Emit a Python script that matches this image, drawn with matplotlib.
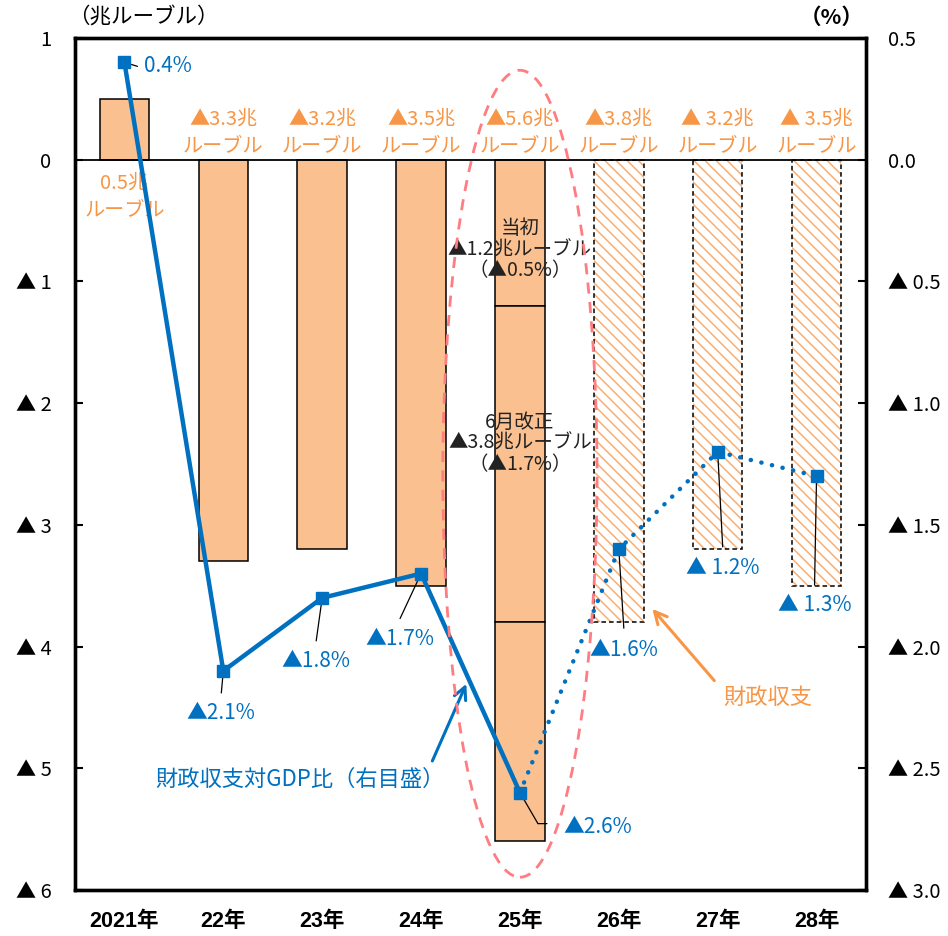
import matplotlib
matplotlib.use('Agg')
import matplotlib.pyplot as plt
from matplotlib.patches import Ellipse
from matplotlib.text import OffsetFrom

plt.rcParams['font.family'] = ['Noto Sans CJK JP', 'DejaVu Sans']
plt.rcParams['hatch.linewidth'] = 1.1

# ---- data -------------------------------------------------------------
years = ['2021年', '22年', '23年', '24年', '25年', '26年', '27年', '28年']
balance = [0.5, -3.3, -3.2, -3.5, -5.6, -3.8, -3.2, -3.5]          # 兆ルーブル
balance_labels = ['0.5兆', '▲3.3兆', '▲3.2兆', '▲3.5兆', '▲5.6兆',
                  '▲3.8兆', '▲ 3.2兆', '▲ 3.5兆']
is_forecast = [False, False, False, False, False, True, True, True]
budget_2025_steps = [-1.2, -3.8]                                     # 当初, 6月改正
budget_2025_notes = ['当初\n▲1.2兆ルーブル\n（▲0.5%）',
                     '6月改正\n▲3.8兆ルーブル\n（▲1.7%）']
gdp_ratio = [0.4, -2.1, -1.8, -1.7, -2.6, -1.6, -1.2, -1.3]           # %
gdp_labels = ['0.4%', '▲2.1%', '▲1.8%', '▲1.7%', '▲2.6%', '▲1.6%',
              '▲ 1.2%', '▲ 1.3%']
left_ticks = [1, 0, -1, -2, -3, -4, -5, -6]
left_ticklabels = ['1', '0', '▲ 1', '▲ 2', '▲ 3', '▲ 4', '▲ 5', '▲ 6']
right_ticks = [0.5, 0.0, -0.5, -1.0, -1.5, -2.0, -2.5, -3.0]
right_ticklabels = ['0.5', '0.0', '▲ 0.5', '▲ 1.0', '▲ 1.5', '▲ 2.0',
                    '▲ 2.5', '▲ 3.0']

# ---- styles -----------------------------------------------------------
BAR = '#FAC090'
ORANGE = '#F79646'
HATCH = '#F9AE72'
BLUE = '#0070C0'
RED = '#FF7C80'
LATIN = ['Liberation Sans', 'Noto Sans CJK JP']

fig = plt.figure(figsize=(9.48, 9.36), dpi=100)
ax = fig.add_axes([75 / 948, 46 / 936, 791 / 948, 852 / 936])
ax2 = ax.twinx()

x = list(range(len(years)))
W = 0.5

# bars
for i, v in enumerate(balance):
    if is_forecast[i]:
        ax.bar(i, v, W, color='white', edgecolor=HATCH, hatch='\\\\\\',
               linewidth=0, zorder=2)
        ax.bar(i, v, W, fill=False, edgecolor='black', linewidth=1.1,
               linestyle=(0, (3, 2)), zorder=2.1)
    elif i == 4:
        edges = [0] + budget_2025_steps + [v]
        for top, bot in zip(edges[:-1], edges[1:]):
            ax.bar(i, bot - top, W, bottom=top, color=BAR,
                   edgecolor='black', linewidth=1.1, zorder=2)
    else:
        ax.bar(i, v, W, color=BAR, edgecolor='black', linewidth=1.1, zorder=2)

ax.axhline(0, color='black', linewidth=1.3, zorder=2.5)

# bar value labels
for i, (v, lab) in enumerate(zip(balance, balance_labels)):
    if v >= 0:
        ax.annotate(lab + '\nルーブル', (i, 0), xytext=(0, -13),
                    textcoords='offset pixels', ha='center', va='top',
                    fontsize=14.5, color=ORANGE, linespacing=1.32, zorder=4)
    else:
        ax.annotate(lab + '\nルーブル', (i, 0), xytext=(0, 4),
                    textcoords='offset pixels', ha='center', va='bottom',
                    fontsize=14.5, color=ORANGE, linespacing=1.32, zorder=4)

# 2025 budget notes
note_y = [-0.74, -2.33]
for y, note in zip(note_y, budget_2025_notes):
    ax.text(4, y, note, ha='center', va='center', fontsize=14,
            color='#222222', linespacing=1.0, zorder=4)

ax.set_xlim(-0.5, len(years) - 0.5)
ax.set_ylim(-6, 1)
ax.set_yticks(left_ticks)
ax.set_yticklabels(left_ticklabels, fontsize=14.5)
ax.set_xticks(x)
ax.set_xticklabels(years, fontsize=15.5, fontweight='bold', family=LATIN)
ax.tick_params(axis='x', length=0, pad=15)
ax.tick_params(axis='y', direction='in', length=6, width=1.5, pad=17)

ax2.set_ylim(-3, 0.5)
ax2.set_yticks(right_ticks)
ax2.set_yticklabels(right_ticklabels, fontsize=14.5)
ax2.tick_params(axis='y', direction='in', length=6, width=1.5, pad=16)

for a in (ax, ax2):
    for s in a.spines.values():
        s.set_linewidth(2.4)

# GDP ratio line
ax2.plot(x[:5], gdp_ratio[:5], color=BLUE, linewidth=3.2, zorder=3,
         solid_capstyle='round')
ax2.plot(x[4:], gdp_ratio[4:], color=BLUE, linewidth=3.2, zorder=3,
         linestyle=(0, (0.05, 2.4)), dash_capstyle='round')
ax2.plot(x, gdp_ratio, linestyle='none', marker='s', markersize=9,
         color=BLUE, zorder=4)

# leader lines and value labels (offsets in pixels)
leader_end = [(13, -4), (-2, -22), (-6, -43), (-21, -45), (18, -31),
              (5, -79), (5, -95), (-2, -109)]
label_pos = [(20, -4), (-2, -42), (-6, -63), (-21, -65), (78, -34),
             (5, -101), (5, -116), (-2, -129)]
leader_kw = dict(arrowstyle='-', color='black', lw=0.9, shrinkA=0, shrinkB=0)
for i, (v, lab) in enumerate(zip(gdp_ratio, gdp_labels)):
    ax2.annotate('', (i, v), xytext=leader_end[i], textcoords='offset pixels',
                 arrowprops=leader_kw, zorder=3.5)
    ha = 'left' if i == 0 else 'center'
    ax2.annotate(lab, (i, v), xytext=label_pos[i], textcoords='offset pixels',
                 ha=ha, va='center', fontsize=15, color=BLUE, zorder=5)
# short horizontal tail for the 2025 leader
tail_ref = OffsetFrom(ax2.transData, (4, gdp_ratio[4]), unit='pixels')
ax2.annotate('', xy=(18, -31), xycoords=tail_ref, xytext=(27, -31),
             textcoords=tail_ref, arrowprops=leader_kw, zorder=3.5)

# callouts
ax2.annotate('', xy=(3.458, -4.306), xycoords=ax.transData,
             xytext=(3.114, -4.94), textcoords=ax.transData,
             arrowprops=dict(arrowstyle='->', color=BLUE, lw=2.2,
                             mutation_scale=22, shrinkA=0, shrinkB=0))
ax2.text(1.78, -5.09, '財政収支対GDP比（右目盛）', transform=ax.transData,
         ha='center', va='center', fontsize=16, color=BLUE)

ax2.annotate('', xy=(5.339, -3.69), xycoords=ax.transData,
             xytext=(5.966, -4.28), textcoords=ax.transData,
             arrowprops=dict(arrowstyle='->', color=ORANGE, lw=2.2,
                             mutation_scale=22, shrinkA=0, shrinkB=0))
ax2.text(6.51, -4.42, '財政収支', transform=ax.transData,
         ha='center', va='center', fontsize=16, color=ORANGE)

# highlight for 2025
ax2.add_patch(Ellipse((4, -2.58), 1.56, 6.63, transform=ax.transData,
                      fill=False, edgecolor=RED, linewidth=2.0,
                      linestyle=(0, (4, 3)), zorder=6))

# axis unit labels
fig.text(68 / 948, 1 - 17 / 936, '（兆ルーブル）', ha='left', va='center',
         fontsize=15.5)
fig.text(864 / 948, 1 - 17 / 936, '（%）', ha='right', va='center',
         fontsize=15.5, fontweight='bold')

fig.savefig('out.png', dpi=100)
